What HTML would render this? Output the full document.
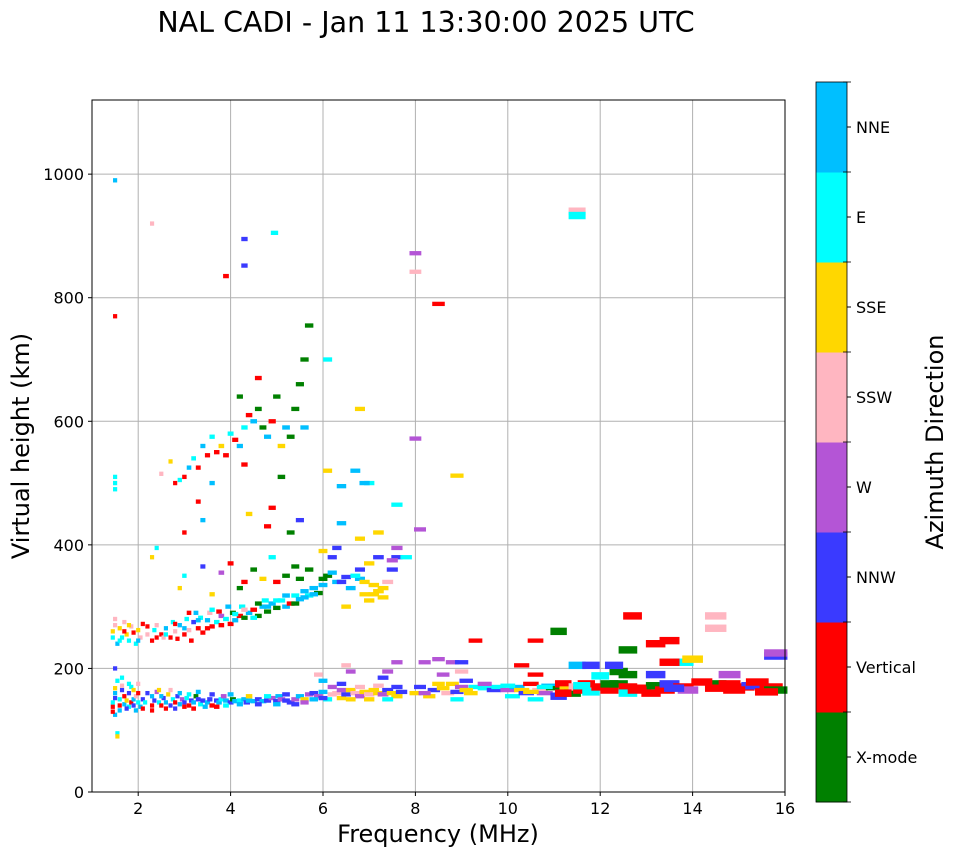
<!DOCTYPE html>
<html><head><meta charset="utf-8"><style>
body{margin:0;background:#fff;font-family:"DejaVu Sans","Liberation Sans",sans-serif;}
svg text{font-family:"DejaVu Sans","Liberation Sans",sans-serif;}
</style></head><body>
<svg id="chart" width="958" height="857" xmlns="http://www.w3.org/2000/svg">
<text x="426" y="32" font-size="28.5" text-anchor="middle">NAL CADI - Jan 11 13:30:00 2025 UTC</text>
<g id="grid"></g>
<g id="marks"></g>
<rect x="92" y="100" width="693" height="692" fill="none" stroke="#000" stroke-width="1"/>
<g id="axes"></g>
<text x="438" y="842" font-size="24" text-anchor="middle">Frequency (MHz)</text>
<text transform="translate(29,446) rotate(-90)" font-size="24" text-anchor="middle">Virtual height (km)</text>
<g id="cbar"></g>
<text transform="translate(943,442) rotate(-90)" font-size="24" text-anchor="middle">Azimuth Direction</text>
</svg>
<script>
const directionLabels=["X-mode","Vertical","NNW","W","SSW","SSE","E","NNE"];
const directionColors=["#008000","#ff0000","#3a3aff","#b455d6","#ffb6c1","#ffd700","#00ffff","#00bfff"];
const xTicks=[2,4,6,8,10,12,14,16];
const yTicks=[0,200,400,600,800,1000];
const lowBand=[[1.45,138,1],[1.45,145,6],[1.5,152,2],[1.5,160,7],[1.5,125,7],[1.55,95,6],[1.55,90,5],[1.5,200,2],[1.55,180,6],[1.6,140,1],[1.6,150,6],[1.65,165,2],[1.65,172,4],[1.7,142,7],[1.7,155,1],[1.75,148,5],[1.8,138,6],[1.8,160,2],[1.85,145,1],[1.85,170,6],[1.9,150,7],[1.9,140,2],[1.95,155,4],[2.0,145,6],[2.0,160,1],[2.05,138,7],[2.1,150,2],[2.15,145,6],[2.3,140,1],[2.3,155,7],[2.35,148,2],[2.4,162,3],[2.45,145,6],[2.5,140,1],[2.55,152,2],[2.6,145,7],[2.65,158,5],[2.7,140,2],[2.75,150,6],[2.8,145,1],[2.85,155,2],[2.9,142,7],[2.95,150,3],[3.0,145,2],[3.05,152,6],[3.1,140,1],[3.15,148,2],[3.2,145,7],[3.25,155,0],[3.3,150,2],[3.35,142,6],[3.4,148,2],[3.5,145,7],[3.55,150,2],[3.6,140,1],[3.7,148,2],[3.75,145,7],[3.8,150,6],[3.85,155,3],[3.9,148,7],[4.0,145,2],[4.05,150,0],[4.1,147,7],[4.2,148,6],[4.3,150,7],[4.35,145,2],[4.4,148,7],[4.5,147,7],[4.6,150,2],[4.7,147,7],[4.8,148,2],[4.9,152,3],[5.0,147,2],[5.05,155,7],[5.1,150,3],[5.2,148,2],[5.3,145,2],[5.4,150,3],[5.5,155,7],[5.6,150,5],[5.7,158,3],[5.8,160,2],[5.9,155,3],[6.0,162,7],[6.1,150,6],[6.2,170,3],[6.3,160,4],[6.4,165,3],[6.4,152,5],[6.5,158,2],[6.6,165,5],[6.7,160,4],[6.8,155,3],[6.9,162,5],[7.0,158,4],[7.1,165,5],[7.2,160,5],[7.3,158,3],[7.4,165,2],[7.5,160,5],[7.6,155,5],[7.7,162,2],[7.6,210,3],[7.3,185,2],[7.4,195,3],[6.6,195,3],[6.5,205,4],[6.0,180,7],[5.9,190,4]];
const lowBandExtra=[[1.45,130,1],[1.5,168,5],[1.6,132,7],[1.65,185,6],[1.75,135,2],[1.8,175,6],[1.9,165,5],[1.95,132,7],[2.0,175,4],[2.1,135,1],[2.2,160,2],[2.3,132,1],[2.45,165,5],[2.5,155,7],[2.6,135,1],[2.7,165,4],[2.8,135,2],[2.9,160,7],[3.0,138,1],[3.1,158,6],[3.2,135,1],[3.3,162,7],[3.45,138,7],[3.6,158,2],[3.7,138,1],[3.9,140,6],[4.0,158,7],[4.2,142,7],[4.4,155,5],[4.6,142,2],[4.8,155,6],[5.0,142,7],[5.2,158,2],[5.4,142,2],[5.6,145,3],[5.8,150,7],[6.0,152,2],[6.2,158,4],[6.4,175,2],[6.6,150,5],[6.8,170,4],[7.0,150,5],[7.2,172,4],[7.4,150,6],[7.6,170,2]];
const fTrace=[[1.45,260,5],[1.45,250,6],[1.5,270,4],[1.55,240,7],[1.6,265,5],[1.65,250,6],[1.7,275,4],[1.75,255,5],[1.8,245,6],[1.85,268,4],[1.9,258,1],[1.95,240,6],[2.0,262,5],[2.05,250,4],[2.1,272,1],[2.2,255,4],[2.3,245,1],[2.35,262,6],[2.4,270,4],[2.5,255,1],[2.55,250,4],[2.6,265,7],[2.7,250,1],[2.75,275,6],[2.8,260,4],[2.85,248,1],[2.9,270,7],[3.0,255,1],[3.05,280,6],[3.1,262,4],[3.15,245,1],[3.2,275,2],[3.25,290,7],[3.3,265,1],[3.35,282,6],[3.4,258,1],[3.5,278,7],[3.55,290,4],[3.6,268,1],[3.7,275,6],[3.75,292,1],[3.8,285,3],[3.9,280,6],[4.0,272,1],[4.05,290,0],[4.1,278,7],[4.2,285,1],[4.25,300,6],[4.3,282,0],[4.4,290,7],[4.5,295,1],[4.6,285,0],[4.7,300,7],[4.75,310,6],[4.8,292,0],[4.9,305,7],[5.0,298,0],[5.1,310,6],[5.2,300,7],[5.3,305,1],[5.4,318,6],[5.5,312,7],[5.6,325,7],[5.7,318,6],[5.8,330,7],[5.9,322,0],[6.0,335,7],[6.1,350,0],[6.3,340,7],[6.5,348,2],[6.6,330,7],[6.8,345,7],[6.9,320,5],[7.0,310,5],[7.1,335,5],[7.2,325,5],[7.3,315,5],[7.4,340,4],[7.5,360,2],[7.6,380,2],[7.6,395,3],[7.2,380,2],[6.5,300,5],[6.8,360,2],[7.0,370,5],[2.9,330,5],[3.0,350,6],[3.4,365,2],[3.8,355,3],[4.0,370,1],[4.3,340,1],[4.5,360,0],[4.9,380,6],[5.2,350,0],[5.5,345,0],[5.7,360,0],[6.3,395,2],[6.4,435,7],[6.0,390,5],[5.3,420,0],[4.8,430,1],[3.4,440,7],[3.0,420,1],[2.4,395,6],[2.3,380,5],[5.5,440,2],[6.8,410,5],[7.8,380,6],[7.2,420,5]];
const fTraceExtra=[[1.5,280,4],[1.6,245,6],[1.7,260,1],[1.8,270,5],[2.0,245,7],[2.2,268,1],[2.4,250,1],[2.6,255,6],[2.8,272,1],[3.0,265,7],[3.1,290,1],[3.3,278,7],[3.5,265,1],[3.6,295,6],[3.8,270,1],[3.95,300,7],[4.1,288,6],[4.3,295,4],[4.5,282,6],[4.6,305,0],[4.8,300,7],[5.0,310,6],[5.2,318,7],[5.4,305,0],[5.6,315,7],[5.8,320,7],[6.0,345,0],[6.2,355,7],[6.4,340,2],[6.7,350,6],[6.9,340,5],[7.1,320,5],[7.3,330,5],[7.5,375,3],[3.6,320,5],[4.2,330,0],[4.7,345,5],[5.0,340,1],[5.4,365,0],[6.2,380,2]];
const upperTrace=[[2.5,515,4],[2.7,535,5],[2.8,500,1],[2.9,505,6],[3.0,510,1],[3.1,525,7],[3.2,540,6],[3.3,525,1],[3.4,560,7],[3.5,545,1],[3.6,575,6],[3.7,550,1],[3.8,560,5],[3.9,545,1],[4.0,580,6],[4.1,570,1],[4.2,560,7],[4.3,590,6],[4.4,610,1],[4.5,600,7],[4.6,620,0],[4.7,590,0],[4.8,575,7],[4.9,600,1],[5.0,640,0],[5.1,560,5],[5.2,590,7],[5.3,575,0],[5.4,620,0],[5.5,660,0],[5.6,700,0],[5.7,755,0],[5.6,590,7],[4.6,670,1],[4.2,640,0],[3.3,470,1],[4.3,530,1],[5.1,510,0],[6.1,520,5],[6.4,495,7],[7.0,500,6],[7.6,465,6],[6.7,520,7],[4.9,460,1],[3.6,500,7]];
const highBand=[[8.0,160,5],[8.1,170,2],[8.2,210,3],[8.3,155,5],[8.4,165,2],[8.5,175,5],[8.6,190,3],[8.7,160,4],[8.8,175,5],[8.8,210,3],[8.9,150,6],[9.0,170,3],[9.0,195,4],[9.1,180,2],[9.2,160,5],[9.3,170,6],[9.5,168,6],[9.7,165,2],[9.8,170,6],[10.0,165,3],[10.1,155,6],[10.2,170,7],[10.3,165,5],[10.4,160,2],[10.5,175,1],[10.6,150,6],[10.6,190,1],[10.7,165,4],[10.8,160,3],[10.9,172,7],[11.0,168,0],[11.1,155,2],[11.2,175,1],[11.3,165,5],[11.4,160,0],[11.5,170,4],[11.6,165,1],[11.7,175,1],[11.8,162,6],[12.0,170,1],[12.2,165,1],[12.4,175,0],[12.6,170,1],[12.6,160,6],[12.9,168,1],[13.2,172,0],[13.4,165,1],[13.5,175,2],[13.8,170,1],[13.9,165,3],[14.5,175,0],[14.5,168,1],[14.8,175,1],[15.1,170,1],[15.3,172,2],[15.7,170,1],[15.8,165,0],[8.5,215,3],[9.0,210,2],[9.3,245,1],[10.3,205,1],[10.6,245,1],[11.1,260,0],[11.5,205,7],[12.7,285,1],[12.6,230,0],[13.2,240,1],[13.5,245,1],[13.8,210,6],[14.0,215,5],[14.5,265,4],[14.5,285,4],[15.8,220,2],[15.8,225,3],[12.4,195,0],[12.6,190,0],[13.2,190,2],[13.5,210,1],[14.8,190,3],[12.3,205,2],[11.8,205,2],[12.0,188,6]];
const highBandExtra=[[8.2,160,3],[8.6,168,5],[8.9,162,2],[9.1,165,5],[9.5,175,3],[10.0,172,6],[10.5,162,5],[10.8,170,6],[11.2,160,1],[11.6,172,6],[12.2,175,0],[12.8,165,1],[13.1,160,1],[13.6,168,2],[14.2,178,1],[14.9,165,1],[15.4,178,1],[15.6,162,1]];
const scatterEchoes=[[1.5,990,7],[1.5,770,1],[2.3,920,4],[3.9,835,1],[4.3,895,2],[4.3,852,2],[4.95,905,6],[8.0,872,3],[8.0,842,4],[8.5,790,1],[11.5,940,4],[11.5,933,6],[8.0,572,3],[6.1,700,6],[6.8,620,5],[8.1,425,3],[8.9,512,5],[1.5,500,6],[1.5,510,6],[1.5,490,6],[4.4,450,5],[6.9,500,7]];

const NS="http://www.w3.org/2000/svg";
const X0=92,X1=785,Y0=792,Y1=100,FMIN=1,FMAX=16,HMIN=0,HMAX=1120;
function xScale(f){return X0+(f-FMIN)/(FMAX-FMIN)*(X1-X0);}
function yScale(h){return Y0-(h-HMIN)/(HMAX-HMIN)*(Y0-Y1);}
function mk(tag,attrs,parent){const e=document.createElementNS(NS,tag);for(const k in attrs)e.setAttribute(k,attrs[k]);parent.appendChild(e);return e;}
const grid=document.getElementById('grid'),axes=document.getElementById('axes'),marks=document.getElementById('marks'),cbar=document.getElementById('cbar');
xTicks.forEach(t=>{const x=xScale(t);
 const g=mk('line',{x1:x,x2:x,y1:Y1,y2:Y0,stroke:'#b0b0b0','stroke-width':1},grid);
 
 
 mk('line',{x1:x,x2:x,y1:Y0,y2:Y0+4,stroke:'#000'},axes);
 const tx=mk('text',{x:x,y:Y0+22,'font-size':16,'text-anchor':'middle'},axes);tx.textContent=t;
 
 
});
yTicks.forEach(t=>{const y=yScale(t);
 const g=mk('line',{x1:X0,x2:X1,y1:y,y2:y,stroke:'#b0b0b0','stroke-width':1},grid);
 
 
 mk('line',{x1:X0-4,x2:X0,y1:y,y2:y,stroke:'#000'},axes);
 const tx=mk('text',{x:X0-8,y:y+6,'font-size':16,'text-anchor':'end'},axes);tx.textContent=t;
 
 
});
[lowBand,lowBandExtra,fTrace,fTraceExtra,upperTrace,highBand,highBandExtra,scatterEchoes].forEach(arr=>arr.forEach(p=>{
 const f=p[0],h=p[1],c=p[2];
 const wf=Math.max(0.09,0.032*f),hk=f>11?12:7;
 const x=xScale(f-wf/2),x2=xScale(f+wf/2),y=yScale(h+hk/2),y2=yScale(h-hk/2);
 const r=mk('rect',{x:x,y:y,width:x2-x,height:y2-y,fill:directionColors[c]},marks);
 
 
}));
const CB_X=816,CB_W=31,CB_T=82,CB_B=802,n=directionLabels.length,seg=(CB_B-CB_T)/n;
directionLabels.forEach((lab,i)=>{
 const y=CB_B-(i+1)*seg;
 const r=mk('rect',{x:CB_X,y:y,width:CB_W,height:seg+0.5,fill:directionColors[i]},cbar);
 
 
 mk('line',{x1:CB_X+CB_W,x2:CB_X+CB_W+4,y1:y+seg/2,y2:y+seg/2,stroke:'#000'},cbar);
 const tx=mk('text',{x:CB_X+CB_W+9,y:y+seg/2+6,'font-size':16},cbar);tx.textContent=lab;
 
 
});
for(let i=0;i<=n;i++){const y=CB_T+i*seg;mk('line',{x1:CB_X+CB_W-4,x2:CB_X+CB_W+4,y1:y,y2:y,stroke:'#000','stroke-width':0.8},cbar);}
mk('rect',{x:CB_X,y:CB_T,width:CB_W,height:CB_B-CB_T,fill:'none',stroke:'#000','stroke-width':0.8},cbar);
</script>
</body></html>
